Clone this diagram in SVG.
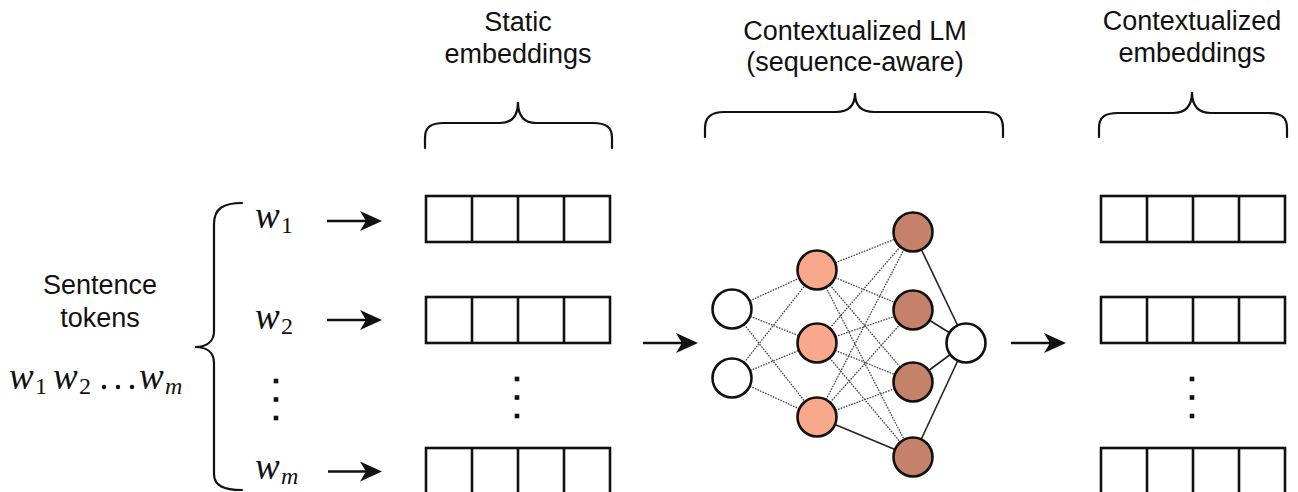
<svg xmlns="http://www.w3.org/2000/svg" width="1298" height="492" viewBox="0 0 1298 492">
  <style>
    .lbl { font-family: "Liberation Sans", Arial, sans-serif; font-size: 27px; fill: #111; text-anchor: middle; }
    .math { font-family: "Liberation Serif", "Times New Roman", serif; font-style: italic; font-size: 37px; fill: #111; }
    .sub { font-family: "Liberation Serif", "Times New Roman", serif; font-style: normal; font-size: 24px; }
    .subi { font-family: "Liberation Serif", "Times New Roman", serif; font-style: italic; font-size: 24px; }
    .brace { fill: none; stroke: #111; stroke-width: 2.2; stroke-linecap: round; }
    .cell { fill: #fff; stroke: #111; stroke-width: 2.6; }
    .div { stroke: #111; stroke-width: 2.6; }
    .dot { fill: #111; }
    .arrow { stroke: #111; stroke-width: 2.6; fill: none; marker-end: url(#head); }
    .dash { stroke: #444; stroke-width: 1.3; stroke-dasharray: 1.6 1.2; fill: none; }
    .solid { stroke: #222; stroke-width: 1.6; fill: none; }
    .n-in { fill: #fff; stroke: #111; stroke-width: 2.6; }
    .n-h1 { fill: #F9A98B; stroke: #111; stroke-width: 2.6; }
    .n-h2 { fill: #C4826A; stroke: #111; stroke-width: 2.6; }
  </style>
  <defs>
    <marker id="head" viewBox="0 0 22 20" refX="10" refY="10" markerWidth="22" markerHeight="20" markerUnits="userSpaceOnUse" orient="auto">
      <path d="M0,0 L22,10 L0,20 L6,10 Z" fill="#111"/>
    </marker>
    <!-- one embedding vector: four cells in a row -->
    <g id="vec">
      <rect class="cell" x="0" y="0" width="184" height="46"/>
      <line class="div" x1="46" y1="0" x2="46" y2="46"/>
      <line class="div" x1="92" y1="0" x2="92" y2="46"/>
      <line class="div" x1="138" y1="0" x2="138" y2="46"/>
    </g>
    <g id="vdots">
      <rect class="dot" x="-2.3" y="-2.3" width="4.6" height="4.6"/>
      <rect class="dot" x="-2.3" y="16.2" width="4.6" height="4.6"/>
      <rect class="dot" x="-2.3" y="34.7" width="4.6" height="4.6"/>
    </g>
  </defs>

  <!-- sentence tokens -->
  <g id="sentence">
    <text class="lbl" x="100" y="294">Sentence</text>
    <text class="lbl" x="100" y="327">tokens</text>
    <text class="math" y="389"><tspan x="9">w</tspan><tspan class="sub" x="35" dy="5">1</tspan><tspan x="53" dy="-5">w</tspan><tspan class="sub" x="79" dy="5">2</tspan><tspan x="139" dy="-5">w</tspan><tspan class="subi" x="165" dy="5">m</tspan></text>
    <circle class="dot" cx="104" cy="387" r="2.2"/>
    <circle class="dot" cx="118" cy="387" r="2.2"/>
    <circle class="dot" cx="132" cy="387" r="2.2"/>
  </g>

  <g id="token-brace">
    <path class="brace" d="M242,203 C224,203 214,208 214,224 L214,331 C214,342 206,347 195,347 C206,347 214,352 214,363 L214,474 C214,486 224,490 242,490"/>
  </g>

  <g id="tokens">
    <text class="math" y="228"><tspan x="255">w</tspan><tspan class="sub" x="281" dy="5">1</tspan></text>
    <text class="math" y="329"><tspan x="255">w</tspan><tspan class="sub" x="281" dy="5">2</tspan></text>
    <use href="#vdots" x="276" y="381"/>
    <text class="math" y="479"><tspan x="255">w</tspan><tspan class="subi" x="281" dy="5">m</tspan></text>
  </g>

  <!-- static embeddings -->
  <g id="static-embeddings">
    <text class="lbl" x="518" y="31">Static</text>
    <text class="lbl" x="518" y="63">embeddings</text>
    <path class="brace" d="M425,148 L425,138 C425,127 431,123 444,123 L500,123 C511,123 518,117 518,102 C518,117 525,123 536,123 L593,123 C606,123 612,127 612,138 L612,148"/>
    <use href="#vec" x="426" y="196"/>
    <use href="#vec" x="426" y="297"/>
    <use href="#vdots" x="517" y="379"/>
    <use href="#vec" x="426" y="448"/>
  </g>

  <!-- contextualized language model -->
  <g id="lm">
    <text class="lbl" x="855" y="40">Contextualized LM</text>
    <text class="lbl" x="855" y="71">(sequence-aware)</text>
    <path class="brace" d="M705,137 L705,128 C705,117 711,112 724,112 L836,112 C848,112 855,106 855,93 C855,106 862,112 874,112 L985,112 C998,112 1003,117 1003,128 L1003,137"/>
    <g id="lm-edges">
      <line class="dash" x1="732" y1="309" x2="817" y2="270"/>
      <line class="dash" x1="732" y1="309" x2="817" y2="343"/>
      <line class="dash" x1="732" y1="309" x2="817" y2="417"/>
      <line class="dash" x1="732" y1="378" x2="817" y2="270"/>
      <line class="dash" x1="732" y1="378" x2="817" y2="343"/>
      <line class="dash" x1="732" y1="378" x2="817" y2="417"/>
      <line class="dash" x1="817" y1="270" x2="913" y2="232"/>
      <line class="dash" x1="817" y1="270" x2="913" y2="310"/>
      <line class="dash" x1="817" y1="270" x2="913" y2="382"/>
      <line class="dash" x1="817" y1="270" x2="913" y2="457"/>
      <line class="dash" x1="817" y1="343" x2="913" y2="232"/>
      <line class="dash" x1="817" y1="343" x2="913" y2="310"/>
      <line class="dash" x1="817" y1="343" x2="913" y2="382"/>
      <line class="dash" x1="817" y1="343" x2="913" y2="457"/>
      <line class="dash" x1="817" y1="417" x2="913" y2="232"/>
      <line class="dash" x1="817" y1="417" x2="913" y2="310"/>
      <line class="dash" x1="817" y1="417" x2="913" y2="382"/>
      <line class="solid" x1="817" y1="417" x2="913" y2="457"/>
      <line class="solid" x1="913" y1="232" x2="966" y2="343"/>
      <line class="solid" x1="913" y1="310" x2="966" y2="343"/>
      <line class="solid" x1="913" y1="382" x2="966" y2="343"/>
      <line class="solid" x1="913" y1="457" x2="966" y2="343"/>
    </g>
    <g id="lm-nodes">
      <circle class="n-in" cx="732" cy="309" r="19.5"/>
      <circle class="n-in" cx="732" cy="378" r="19.5"/>
      <circle class="n-h1" cx="817" cy="270" r="19.5"/>
      <circle class="n-h1" cx="817" cy="343" r="19.5"/>
      <circle class="n-h1" cx="817" cy="417" r="19.5"/>
      <circle class="n-h2" cx="913" cy="232" r="19.5"/>
      <circle class="n-h2" cx="913" cy="310" r="19.5"/>
      <circle class="n-h2" cx="913" cy="382" r="19.5"/>
      <circle class="n-h2" cx="913" cy="457" r="19.5"/>
      <circle class="n-in" cx="966" cy="343" r="19.5"/>
    </g>
  </g>

  <!-- contextualized embeddings -->
  <g id="context-embeddings">
    <text class="lbl" x="1192" y="30">Contextualized</text>
    <text class="lbl" x="1192" y="62">embeddings</text>
    <path class="brace" d="M1099,137 L1099,128 C1099,117 1105,113 1118,113 L1173,113 C1185,113 1192,107 1192,92 C1192,107 1199,113 1211,113 L1268,113 C1281,113 1287,117 1287,128 L1287,137"/>
    <use href="#vec" x="1101" y="196"/>
    <use href="#vec" x="1101" y="297"/>
    <use href="#vdots" x="1192" y="379"/>
    <use href="#vec" x="1101" y="448"/>
  </g>

  <!-- connectors -->
  <g id="connectors">
    <line class="arrow" x1="327" y1="221" x2="370" y2="221"/>
    <line class="arrow" x1="327" y1="320" x2="370" y2="320"/>
    <line class="arrow" x1="328" y1="471.5" x2="370" y2="471.5"/>
    <line class="arrow" x1="643" y1="343" x2="686" y2="343"/>
    <line class="arrow" x1="1011" y1="343" x2="1054" y2="343"/>
  </g>
</svg>
